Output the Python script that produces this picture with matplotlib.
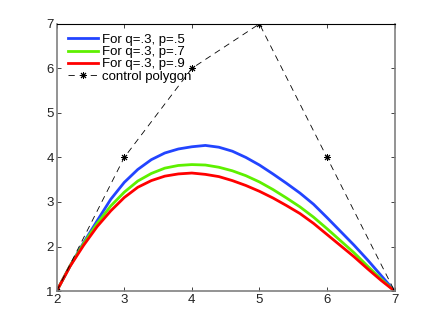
import numpy as np
import matplotlib
matplotlib.use("Agg")
import matplotlib.pyplot as plt

plt.rcParams['font.family'] = ['Liberation Sans', 'DejaVu Sans']
plt.rcParams['lines.scale_dashes'] = False

### Données
x_curve = [2.0, 2.2, 2.4, 2.6, 2.8, 3.0, 3.2, 3.4, 3.6, 3.8, 4.0, 4.2, 4.4,
           4.6, 4.8, 5.0, 5.2, 5.4, 5.6, 5.8, 6.0, 6.2, 6.4, 6.6, 6.8, 7.0]
y_p5 = [1.00, 1.57, 2.09, 2.58, 3.06, 3.44, 3.73, 3.95, 4.10, 4.19, 4.24, 4.27, 4.23,
        4.14, 4.00, 3.83, 3.63, 3.42, 3.20, 2.95, 2.65, 2.34, 2.03, 1.70, 1.35, 1.00]
y_p7 = [1.00, 1.57, 2.07, 2.52, 2.91, 3.22, 3.47, 3.64, 3.76, 3.82, 3.84, 3.83, 3.78,
        3.70, 3.59, 3.45, 3.28, 3.09, 2.89, 2.66, 2.40, 2.13, 1.86, 1.56, 1.27, 1.00]
y_p9 = [1.00, 1.56, 2.03, 2.45, 2.80, 3.10, 3.33, 3.48, 3.58, 3.63, 3.65, 3.62, 3.57,
        3.48, 3.37, 3.24, 3.09, 2.92, 2.74, 2.52, 2.27, 2.02, 1.77, 1.50, 1.24, 1.00]

x_poly = [2, 3, 4, 5, 6, 7]
y_poly = [1, 4, 6, 7, 4, 1]

labels = ['For q=.3, p=.5', 'For q=.3, p=.7', 'For q=.3, p=.9', 'control polygon']
colors = ['#2244ff', '#5ef000', '#ff0000']

fig = plt.figure(figsize=(4.36, 3.27), dpi=100)
ax = fig.add_axes([0.13, 0.11, 0.775, 0.817])

for y, c, lab in zip([y_p5, y_p7, y_p9], colors, labels[:3]):
    ax.plot(x_curve, y, color=c, lw=2, label=lab, solid_joinstyle='round')

ax.plot(x_poly, y_poly, color='k', lw=0.6, dashes=(4.5, 3.5),
        marker=(8, 2, 0), markersize=5, markeredgewidth=0.7, label=labels[3])

ax.set_xlim(2, 7)
ax.set_ylim(1, 7)
ax.set_xticks(range(2, 8))
ax.set_yticks(range(1, 8))
ax.tick_params(direction='in', top=True, right=True, length=3, width=0.6,
               labelsize=9.5, pad=2, colors='#222222')
for s in ['left', 'bottom', 'right']:
    ax.spines[s].set_color('#808080')
    ax.spines[s].set_linewidth(1.2)
ax.spines['top'].set_color('k')
ax.spines['top'].set_linewidth(0.8)

ax.legend(loc='upper left', frameon=False, fontsize=9.5, handlelength=2.3,
          handletextpad=0.3, labelspacing=0.0, borderaxespad=0.0,
          borderpad=0.2, bbox_to_anchor=(0.025, 0.973))

fig.savefig('out.png', dpi=100)
